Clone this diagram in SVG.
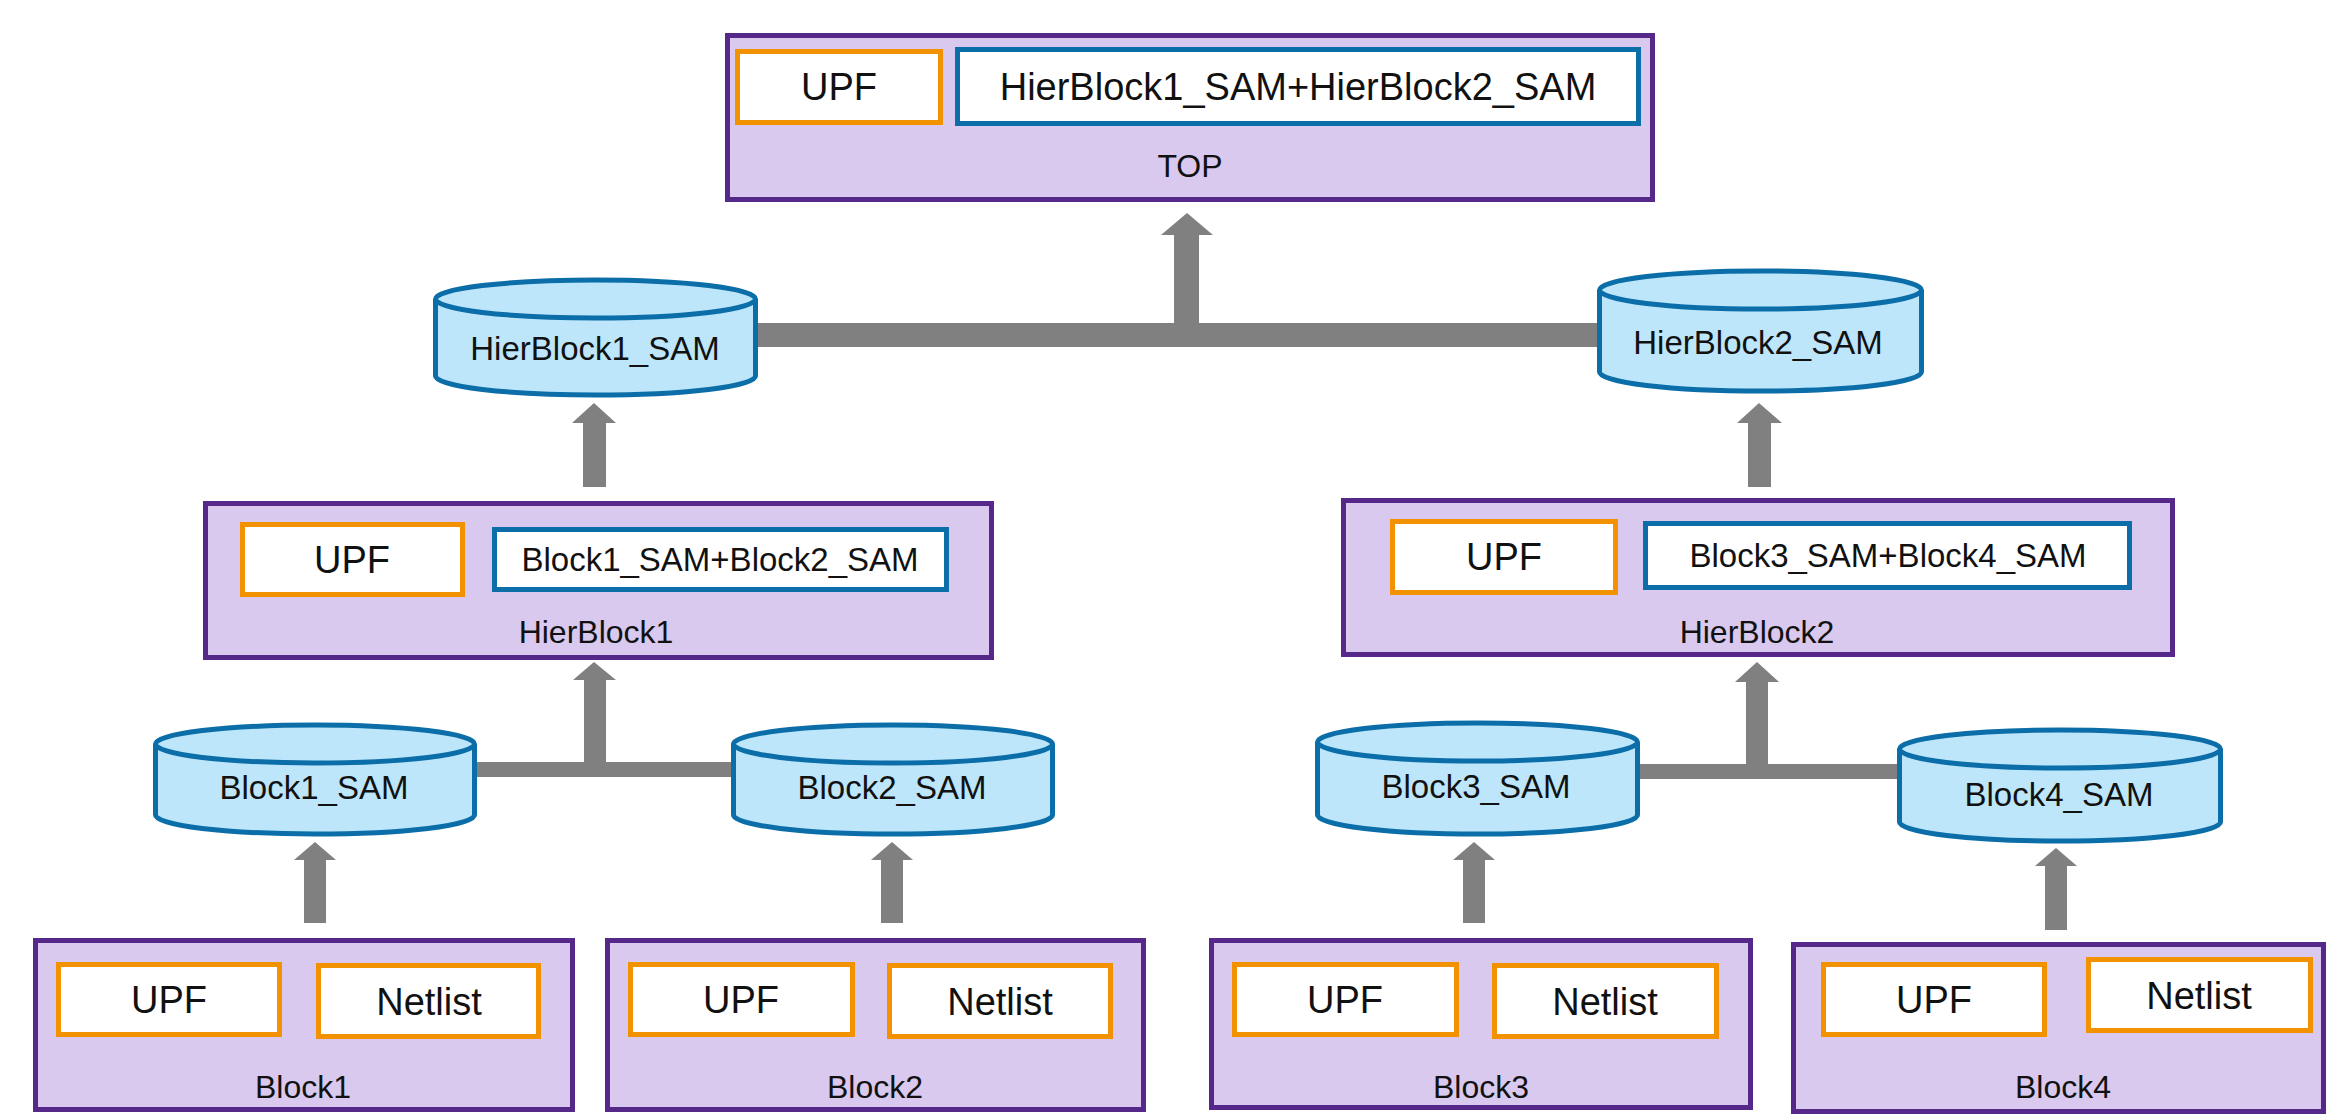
<svg xmlns="http://www.w3.org/2000/svg" width="2330" height="1114" viewBox="0 0 2330 1114">
  <style>
    .frame { fill: #d9c9ee; stroke: #55288a; stroke-width: 5; }
    .upf { fill: #ffffff; stroke: #f39200; stroke-width: 5; }
    .sam { fill: #ffffff; stroke: #0b6ea8; stroke-width: 5; }
    .cyl { fill: #bde6fb; stroke: #0b6ea8; stroke-width: 5; }
    .pipe { fill: #808080; }
    text { font-family: "Liberation Sans", Arial, sans-serif; fill: #111111; text-anchor: middle; }
    .big { font-size: 38px; }
    .mid { font-size: 33px; }
    .lbl { font-size: 32px; }
  </style>

  <rect width="2330" height="1114" fill="#ffffff"/>

  <!-- connectors: thick grey bars and block arrows -->
  <g id="connectors" class="pipe">
    <!-- HierBlock SAMs to TOP -->
    <rect x="757" y="323" width="842" height="24"/>
    <rect x="1174" y="233" width="25" height="92"/>
    <polygon points="1161,235 1187,213 1213,235"/>
    <!-- HierBlock1 to HierBlock1_SAM -->
    <rect x="583" y="421" width="23" height="66"/>
    <polygon points="572,423 594,403 616,423"/>
    <!-- HierBlock2 to HierBlock2_SAM -->
    <rect x="1748" y="421" width="23" height="66"/>
    <polygon points="1737,423 1759,403 1782,423"/>
    <!-- Block1_SAM + Block2_SAM to HierBlock1 -->
    <rect x="476" y="762" width="256" height="15"/>
    <rect x="584" y="678" width="22" height="86"/>
    <polygon points="573,680 594,662 616,680"/>
    <!-- Block3_SAM + Block4_SAM to HierBlock2 -->
    <rect x="1639" y="764" width="259" height="15"/>
    <rect x="1746" y="680" width="22" height="86"/>
    <polygon points="1735,682 1757,662 1779,682"/>
    <!-- Blocks to their SAMs -->
    <rect x="304" y="858" width="22" height="65"/>
    <polygon points="294,860 315,842 336,860"/>
    <rect x="881" y="858" width="22" height="65"/>
    <polygon points="871,860 892,842 913,860"/>
    <rect x="1463" y="858" width="22" height="65"/>
    <polygon points="1453,860 1474,842 1495,860"/>
    <rect x="2045" y="864" width="22" height="66"/>
    <polygon points="2035,866 2056,848 2077,866"/>
  </g>

  <!-- TOP -->
  <g id="top">
    <rect class="frame" x="727.5" y="35.5" width="925" height="164"/>
    <rect class="upf" x="737.5" y="51.5" width="203" height="71"/>
    <text class="big" x="839" y="100">UPF</text>
    <rect class="sam" x="957.5" y="49.5" width="681" height="74"/>
    <text class="big" x="1298" y="100">HierBlock1_SAM+HierBlock2_SAM</text>
    <text class="lbl" x="1190" y="177">TOP</text>
  </g>

  <!-- HierBlock1_SAM -->
  <g id="hierblock1-sam">
    <path class="cyl" d="M435.5,299 L435.5,376 A160,19 0 0 0 755.5,376 L755.5,299"/>
    <ellipse class="cyl" cx="595.5" cy="299" rx="160" ry="19"/>
    <text class="mid" x="595" y="360">HierBlock1_SAM</text>
  </g>

  <!-- HierBlock2_SAM -->
  <g id="hierblock2-sam">
    <path class="cyl" d="M1599.5,290 L1599.5,372 A161,19 0 0 0 1921.5,372 L1921.5,290"/>
    <ellipse class="cyl" cx="1760.5" cy="290" rx="161" ry="19"/>
    <text class="mid" x="1758" y="354">HierBlock2_SAM</text>
  </g>

  <!-- HierBlock1 -->
  <g id="hierblock1">
    <rect class="frame" x="205.5" y="503.5" width="786" height="154"/>
    <rect class="upf" x="242.5" y="524.5" width="220" height="70"/>
    <text class="big" x="352" y="573">UPF</text>
    <rect class="sam" x="494.5" y="529.5" width="452" height="60"/>
    <text class="mid" x="720" y="571">Block1_SAM+Block2_SAM</text>
    <text class="lbl" x="596" y="643">HierBlock1</text>
  </g>

  <!-- HierBlock2 -->
  <g id="hierblock2">
    <rect class="frame" x="1343.5" y="500.5" width="829" height="154"/>
    <rect class="upf" x="1392.5" y="521.5" width="223" height="71"/>
    <text class="big" x="1504" y="570">UPF</text>
    <rect class="sam" x="1645.5" y="523.5" width="484" height="64"/>
    <text class="mid" x="1888" y="567">Block3_SAM+Block4_SAM</text>
    <text class="lbl" x="1757" y="643">HierBlock2</text>
  </g>

  <!-- Block1_SAM -->
  <g id="block1-sam">
    <path class="cyl" d="M155.5,744 L155.5,815 A159.5,19 0 0 0 474.5,815 L474.5,744"/>
    <ellipse class="cyl" cx="315" cy="744" rx="159.5" ry="19"/>
    <text class="mid" x="314" y="799">Block1_SAM</text>
  </g>

  <!-- Block2_SAM -->
  <g id="block2-sam">
    <path class="cyl" d="M733.5,744 L733.5,815 A159.5,19 0 0 0 1052.5,815 L1052.5,744"/>
    <ellipse class="cyl" cx="893" cy="744" rx="159.5" ry="19"/>
    <text class="mid" x="892" y="799">Block2_SAM</text>
  </g>

  <!-- Block3_SAM -->
  <g id="block3-sam">
    <path class="cyl" d="M1317.5,742 L1317.5,815 A160,19 0 0 0 1637.5,815 L1637.5,742"/>
    <ellipse class="cyl" cx="1477.5" cy="742" rx="160" ry="19"/>
    <text class="mid" x="1476" y="798">Block3_SAM</text>
  </g>

  <!-- Block4_SAM -->
  <g id="block4-sam">
    <path class="cyl" d="M1899.5,749 L1899.5,822 A160.5,19 0 0 0 2220.5,822 L2220.5,749"/>
    <ellipse class="cyl" cx="2060" cy="749" rx="160.5" ry="19"/>
    <text class="mid" x="2059" y="806">Block4_SAM</text>
  </g>

  <!-- Block1 -->
  <g id="block1">
    <rect class="frame" x="35.5" y="940.5" width="537" height="169"/>
    <rect class="upf" x="58.5" y="964.5" width="221" height="70"/>
    <text class="big" x="169" y="1013">UPF</text>
    <rect class="upf" x="318.5" y="965.5" width="220" height="71"/>
    <text class="big" x="429" y="1015">Netlist</text>
    <text class="lbl" x="303" y="1098">Block1</text>
  </g>

  <!-- Block2 -->
  <g id="block2">
    <rect class="frame" x="607.5" y="940.5" width="536" height="169"/>
    <rect class="upf" x="630.5" y="964.5" width="222" height="70"/>
    <text class="big" x="741" y="1013">UPF</text>
    <rect class="upf" x="889.5" y="965.5" width="221" height="71"/>
    <text class="big" x="1000" y="1015">Netlist</text>
    <text class="lbl" x="875" y="1098">Block2</text>
  </g>

  <!-- Block3 -->
  <g id="block3">
    <rect class="frame" x="1211.5" y="940.5" width="539" height="167"/>
    <rect class="upf" x="1234.5" y="964.5" width="222" height="70"/>
    <text class="big" x="1345" y="1013">UPF</text>
    <rect class="upf" x="1494.5" y="965.5" width="222" height="71"/>
    <text class="big" x="1605" y="1015">Netlist</text>
    <text class="lbl" x="1481" y="1098">Block3</text>
  </g>

  <!-- Block4 -->
  <g id="block4">
    <rect class="frame" x="1793.5" y="944.5" width="530" height="167"/>
    <rect class="upf" x="1823.5" y="964.5" width="221" height="70"/>
    <text class="big" x="1934" y="1013">UPF</text>
    <rect class="upf" x="2088.5" y="959.5" width="222" height="71"/>
    <text class="big" x="2199" y="1009">Netlist</text>
    <text class="lbl" x="2063" y="1098">Block4</text>
  </g>
</svg>
